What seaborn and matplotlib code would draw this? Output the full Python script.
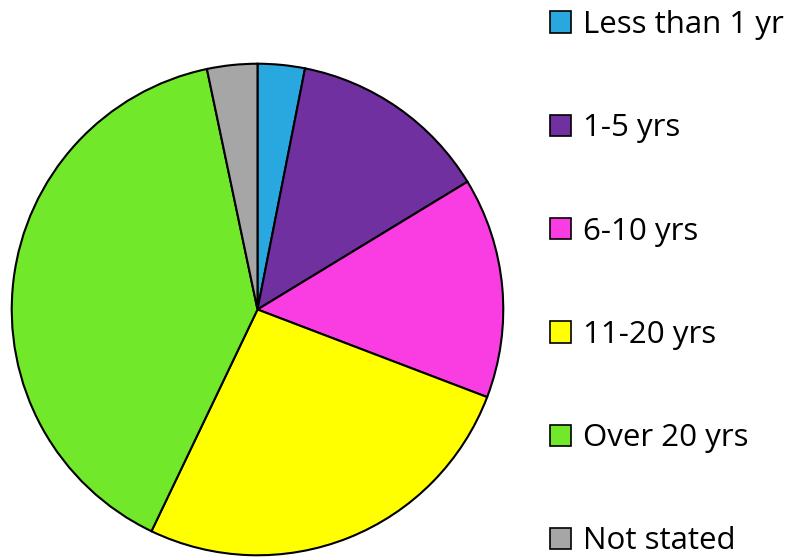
import matplotlib
matplotlib.use("Agg")
import matplotlib.pyplot as plt
from matplotlib.patches import Patch
import seaborn as sns

categories = ["Less than 1 yr", "1-5 yrs", "6-10 yrs", "11-20 yrs", "Over 20 yrs", "Not stated"]
shares = [3.1, 13.2, 14.5, 26.3, 39.6, 3.3]
colors = ["#29A8E0", "#7030A0", "#F93DE3", "#FFFF00", "#72E82A", "#A6A6A6"]

sns.set_theme(style="white")
plt.rcParams["font.family"] = ["Open Sans", "DejaVu Sans"]

fig = plt.figure(figsize=(7.94, 5.58), dpi=100)
ax = fig.add_axes([10.5 / 794, 1.5 / 558, 494 / 794, 494 / 558])
ax.pie(shares, colors=colors, startangle=90, counterclock=False,
       wedgeprops=dict(edgecolor="black", linewidth=1.5))
ax.set_xlim(-1.005, 1.005)
ax.set_ylim(-1.005, 1.005)
ax.set_aspect("equal")
ax.axis("off")

handles = [Patch(facecolor=c, edgecolor="black", linewidth=1.2) for c in colors]
fig.legend(handles, categories, loc="upper left",
           bbox_to_anchor=(550 / 794, 1 - 10 / 558), frameon=False,
           fontsize=22.5, labelcolor="black",
           handlelength=0.67, handleheight=0.67,
           handletextpad=0.38, labelspacing=2.345, borderpad=0, borderaxespad=0)

fig.savefig("out.png", dpi=100)
